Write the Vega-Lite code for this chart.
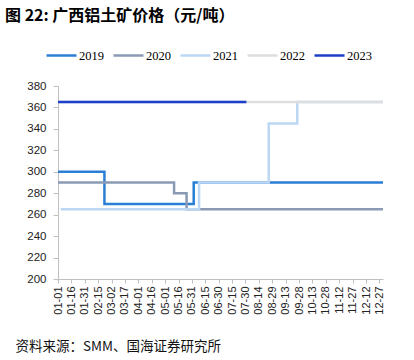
{
  "$schema": "https://vega.github.io/schema/vega-lite/v6.json",
  "width": 325,
  "height": 193,
  "autosize": {"type": "none"},
  "padding": {"left": 58, "top": 86, "right": 31, "bottom": 81},
  "background": "white",
  "config": {"view": {"stroke": null}},
  "title": {
    "text": "图 22:  广西铝土矿价格（元/吨）",
    "anchor": "start",
    "frame": "group",
    "dx": -53,
    "dy": -7,
    "font": "Noto Sans CJK SC",
    "fontSize": 16,
    "fontWeight": "bold",
    "color": "#000000",
    "offset": 8
  },
  "data": {
    "values": [
      {"date": "2021/01/01", "price": 300, "year": "2019"},
      {"date": "2021/02/22", "price": 270, "year": "2019"},
      {"date": "2021/06/02", "price": 290, "year": "2019"},
      {"date": "2021/12/31", "price": 290, "year": "2019"},
      {"date": "2021/01/01", "price": 290, "year": "2020"},
      {"date": "2021/05/11", "price": 280, "year": "2020"},
      {"date": "2021/05/25", "price": 265, "year": "2020"},
      {"date": "2021/12/31", "price": 265, "year": "2020"},
      {"date": "2021/01/04", "price": 265, "year": "2021"},
      {"date": "2021/06/08", "price": 290, "year": "2021"},
      {"date": "2021/08/25", "price": 345, "year": "2021"},
      {"date": "2021/09/26", "price": 365, "year": "2021"},
      {"date": "2021/12/31", "price": 365, "year": "2021"},
      {"date": "2021/01/01", "price": 365, "year": "2022"},
      {"date": "2021/12/31", "price": 365, "year": "2022"},
      {"date": "2021/01/01", "price": 365, "year": "2023"},
      {"date": "2021/07/31", "price": 365, "year": "2023"}
    ]
  },
  "mark": {"type": "line", "interpolate": "step-after", "strokeWidth": 2.5},
  "encoding": {
    "x": {
      "field": "date",
      "type": "temporal",
      "scale": {"domain": [{"year": 2021, "month": 1, "date": 1}, {"year": 2021, "month": 12, "date": 31}]},
      "axis": {
        "values": [
          {"year": 2021, "month": 1, "date": 1},
          {"year": 2021, "month": 1, "date": 16},
          {"year": 2021, "month": 1, "date": 31},
          {"year": 2021, "month": 2, "date": 15},
          {"year": 2021, "month": 3, "date": 2},
          {"year": 2021, "month": 3, "date": 17},
          {"year": 2021, "month": 4, "date": 1},
          {"year": 2021, "month": 4, "date": 16},
          {"year": 2021, "month": 5, "date": 1},
          {"year": 2021, "month": 5, "date": 16},
          {"year": 2021, "month": 5, "date": 31},
          {"year": 2021, "month": 6, "date": 15},
          {"year": 2021, "month": 6, "date": 30},
          {"year": 2021, "month": 7, "date": 15},
          {"year": 2021, "month": 7, "date": 30},
          {"year": 2021, "month": 8, "date": 14},
          {"year": 2021, "month": 8, "date": 29},
          {"year": 2021, "month": 9, "date": 13},
          {"year": 2021, "month": 9, "date": 28},
          {"year": 2021, "month": 10, "date": 13},
          {"year": 2021, "month": 10, "date": 28},
          {"year": 2021, "month": 11, "date": 12},
          {"year": 2021, "month": 11, "date": 27},
          {"year": 2021, "month": 12, "date": 12},
          {"year": 2021, "month": 12, "date": 27}
        ],
        "format": "%m-%d",
        "labelAngle": -90,
        "labelFont": "Liberation Sans",
        "labelFontSize": 11,
        "labelColor": "#222222",
        "labelPadding": 3,
        "labelOverlap": false,
        "labelFlush": false,
        "tickSize": 4,
        "tickColor": "#bfbfbf",
        "domainColor": "#bfbfbf",
        "grid": false,
        "title": "资料来源：SMM、国海证券研究所",
        "titleFont": "Noto Sans CJK SC",
        "titleFontSize": 13.5,
        "titleFontWeight": "normal",
        "titleColor": "#111111",
        "titleAnchor": "start",
        "titleAlign": "left",
        "titleBaseline": "alphabetic",
        "titleX": -43,
        "titleY": 71
      }
    },
    "y": {
      "field": "price",
      "type": "quantitative",
      "scale": {"domain": [200, 380], "nice": false, "zero": false},
      "axis": {
        "values": [200, 220, 240, 260, 280, 300, 320, 340, 360, 380],
        "labelFont": "Liberation Sans",
        "labelFontSize": 11.5,
        "labelColor": "#222222",
        "labelPadding": 7,
        "tickSize": 5,
        "tickColor": "#bfbfbf",
        "domainColor": "#bfbfbf",
        "grid": false,
        "title": null
      }
    },
    "color": {
      "field": "year",
      "type": "nominal",
      "scale": {
        "domain": ["2019", "2020", "2021", "2022", "2023"],
        "range": ["#2a7fd4", "#8a9ab4", "#bcd7f4", "#dedede", "#1b3fc9"]
      },
      "legend": {
        "title": null,
        "orient": "none",
        "legendX": -13,
        "legendY": -47,
        "direction": "horizontal",
        "columns": 5,
        "symbolType": "stroke",
        "symbolSize": 900,
        "symbolStrokeWidth": 2.5,
        "labelFont": "Liberation Serif",
        "labelFontSize": 12.5,
        "labelColor": "#000000",
        "labelOffset": 1,
        "columnPadding": 4
      }
    }
  }
}
